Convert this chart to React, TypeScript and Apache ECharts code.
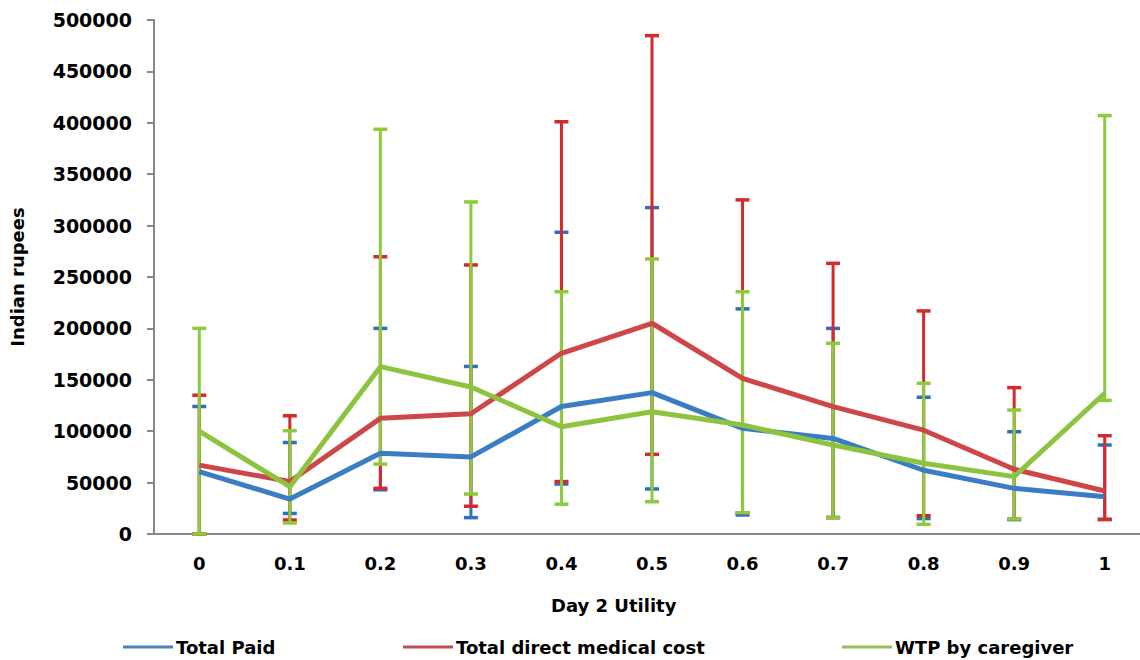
import React, { useEffect, useRef } from "react";
import * as echarts from "echarts";

const categories = ["0", "0.1", "0.2", "0.3", "0.4", "0.5", "0.6", "0.7", "0.8", "0.9", "1"];
const seriesNames = ["Total Paid", "Total direct medical cost", "WTP by caregiver"];

const totalPaid = [60600, 34000, 78500, 75000, 124000, 137500, 102800, 93000, 62000, 44400, 36300];
const totalDirect = [67000, 51000, 112500, 117000, 175800, 205000, 151400, 123900, 101000, 63000, 41800];
const wtp = [100000, 46000, 162800, 143000, 104400, 119000, 106000, 86600, 68800, 55800, 136900];

const paidLow = [0, 20000, 43000, 15900, 48600, 43800, 18500, 16000, 15000, 14000, 14000];
const paidHigh = [124000, 89000, 200000, 163000, 293500, 317500, 219000, 200000, 133000, 99500, 86600];
const directLow = [0, 13600, 44400, 27000, 51000, 77500, 20700, 16000, 17800, 14600, 14300];
const directHigh = [135000, 115000, 269700, 261700, 401000, 484800, 325000, 263300, 217000, 142400, 95600];
const wtpLow = [0, 10700, 68000, 38900, 29000, 31400, 20700, 16000, 9400, 14600, 130000];
const wtpHigh = [200000, 100500, 393700, 323000, 235700, 267500, 235700, 185500, 146600, 120600, 407000];

const yTicks = [0, 50000, 100000, 150000, 200000, 250000, 300000, 350000, 400000, 450000, 500000];

const FONT = "DejaVu Sans";

function errorSeries(name: string, low: number[], high: number[], color: string, z: number) {
  const data = categories.map((_, i) => [i, low[i], high[i]]);
  return {
    type: "custom",
    name: name + " error",
    z,
    silent: true,
    data,
    encode: { x: 0, y: [1, 2] },
    renderItem: (params: any, api: any) => {
      const x = api.value(0);
      const lo = api.coord([x, api.value(1)]);
      const hi = api.coord([x, api.value(2)]);
      const hw = 7;
      return {
        type: "group",
        children: [
          { type: "line", shape: { x1: lo[0], y1: lo[1], x2: hi[0], y2: hi[1] }, style: { stroke: color, lineWidth: 3 } },
          { type: "line", shape: { x1: hi[0] - hw, y1: hi[1], x2: hi[0] + hw, y2: hi[1] }, style: { stroke: color, lineWidth: 3.5 } },
          { type: "line", shape: { x1: lo[0] - hw, y1: lo[1], x2: lo[0] + hw, y2: lo[1] }, style: { stroke: color, lineWidth: 3.5 } },
        ],
      };
    },
  };
}

export default function App() {
  const ref = useRef<HTMLDivElement>(null);
  useEffect(() => {
    document.body.style.margin = "0";
    document.body.style.overflow = "hidden";
    document.documentElement.style.overflow = "hidden";
    if (!ref.current) return;
    const chart = echarts.init(ref.current, null, { renderer: "svg" });
    const textStyle = { fontFamily: FONT, fontWeight: "bold" as const, fontSize: 18, color: "#000" };
    const lineColors = ["#3B7DC4", "#CF4649", "#8DC43F"];
    const legendColors = ["#4F81BD", "#C0504D", "#9BBB59"];
    const legendLefts = [118, 398, 837];
    chart.setOption({
      animation: false,
      backgroundColor: "#fff",
      grid: { left: 152, top: 20, width: 998, height: 514, containLabel: false },
      legend: seriesNames.map((n, i) => ({
        data: [{ name: n, itemStyle: { color: legendColors[i] } }],
        left: legendLefts[i],
        top: 633,
        icon: "rect",
        itemWidth: 50,
        itemHeight: 3,
        itemGap: 4,
        textStyle: { ...textStyle, padding: [0, 0, 0, -2] },
        selectedMode: false,
      })),
      xAxis: {
        type: "category",
        data: categories,
        boundaryGap: true,
        axisLine: { lineStyle: { color: "#888", width: 2 } },
        axisTick: { alignWithLabel: true, length: 6, lineStyle: { color: "#888", width: 2 } },
        axisLabel: { ...textStyle, margin: 20 },
        splitLine: { show: false },
      },
      yAxis: {
        type: "value",
        min: 0,
        max: 500000,
        interval: 50000,
        name: "Indian rupees",
        nameLocation: "middle",
        nameRotate: 90,
        nameGap: 128,
        nameTextStyle: textStyle,
        axisLine: { show: true, lineStyle: { color: "#888", width: 2 } },
        axisTick: { show: true, length: 7, lineStyle: { color: "#888", width: 2 } },
        axisLabel: { ...textStyle, fontSize: 19, margin: 22, formatter: (v: number) => (yTicks.includes(v) ? String(v) : "") },
        splitLine: { show: false },
      },
      graphic: [
        {
          type: "text",
          left: 551,
          top: 596,
          style: { text: "Day 2 Utility", font: `bold 18px "${FONT}"`, fill: "#000" },
        },
      ],
      series: [
        errorSeries(seriesNames[0], paidLow, paidHigh, "#2E6FC0", 1),
        errorSeries(seriesNames[1], directLow, directHigh, "#D42A2A", 2),
        errorSeries(seriesNames[2], wtpLow, wtpHigh, "#8CCB3C", 3),
        ...[totalPaid, totalDirect, wtp].map((d, i) => ({
          type: "line",
          name: seriesNames[i],
          data: d,
          z: 5 + i,
          symbol: "none",
          lineStyle: { color: lineColors[i], width: 5 },
          itemStyle: { color: lineColors[i] },
        })),
      ],
    });
    return () => chart.dispose();
  }, []);
  return <div ref={ref} style={{ width: 1160, height: 660 }} />;
}
